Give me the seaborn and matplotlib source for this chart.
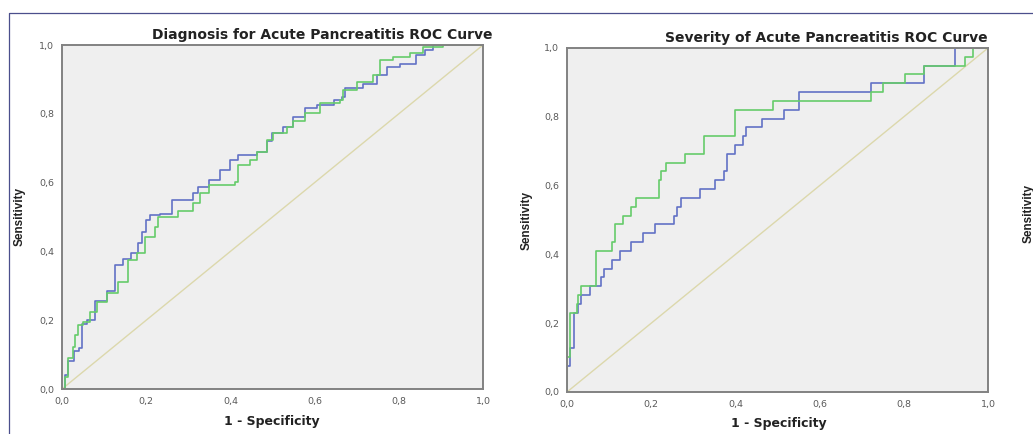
import matplotlib
matplotlib.use("Agg")
import matplotlib.pyplot as plt
import seaborn as sns
from matplotlib.lines import Line2D
from matplotlib.ticker import FuncFormatter

# --- data (1 - specificity, sensitivity) ---
diag_blue_fpr = [0, 0.007, 0.015, 0.028, 0.04, 0.047, 0.06, 0.078, 0.106, 0.126,
                 0.146, 0.165, 0.18, 0.19, 0.2, 0.209, 0.233, 0.262, 0.312, 0.324,
                 0.348, 0.375, 0.399, 0.419, 0.462, 0.486, 0.498, 0.526, 0.549, 0.577,
                 0.605, 0.645, 0.664, 0.672, 0.716, 0.748, 0.771, 0.803, 0.842, 0.862,
                 0.882, 1.0]
diag_blue_tpr = [0, 0.04, 0.08, 0.11, 0.12, 0.19, 0.2, 0.255, 0.285, 0.36,
                 0.377, 0.394, 0.424, 0.457, 0.49, 0.506, 0.51, 0.55, 0.569, 0.588,
                 0.608, 0.637, 0.666, 0.68, 0.69, 0.72, 0.743, 0.763, 0.79, 0.816,
                 0.826, 0.84, 0.85, 0.874, 0.888, 0.913, 0.937, 0.946, 0.971, 0.985,
                 1.0, 1.0]

diag_green_fpr = [0, 0.007, 0.015, 0.025, 0.031, 0.039, 0.05, 0.066, 0.082, 0.106,
                  0.134, 0.157, 0.177, 0.197, 0.221, 0.228, 0.276, 0.312, 0.328, 0.348,
                  0.411, 0.419, 0.447, 0.462, 0.486, 0.502, 0.534, 0.549, 0.577, 0.613,
                  0.66, 0.668, 0.7, 0.739, 0.755, 0.787, 0.827, 0.858, 0.906, 1.0]
diag_green_tpr = [0, 0.036, 0.09, 0.123, 0.157, 0.186, 0.196, 0.225, 0.254, 0.279,
                  0.312, 0.375, 0.394, 0.443, 0.472, 0.5, 0.516, 0.54, 0.569, 0.593,
                  0.603, 0.651, 0.666, 0.69, 0.724, 0.743, 0.763, 0.778, 0.801, 0.83,
                  0.84, 0.869, 0.893, 0.913, 0.956, 0.966, 0.976, 0.995, 1.0, 1.0]

sev_blue_fpr = [0, 0, 0.008, 0.016, 0.026, 0.034, 0.054, 0.08, 0.088, 0.106,
                0.126, 0.152, 0.18, 0.21, 0.254, 0.262, 0.27, 0.316, 0.352, 0.372,
                0.38, 0.398, 0.418, 0.426, 0.462, 0.515, 0.552, 0.722, 0.848, 0.922, 1.0]
sev_blue_tpr = [0, 0.077, 0.128, 0.231, 0.256, 0.282, 0.308, 0.333, 0.359, 0.385,
                0.41, 0.436, 0.462, 0.487, 0.513, 0.538, 0.564, 0.59, 0.615, 0.641,
                0.692, 0.718, 0.744, 0.769, 0.795, 0.821, 0.872, 0.897, 0.949, 1.0, 1.0]

sev_green_fpr = [0, 0, 0.008, 0.024, 0.026, 0.034, 0.07, 0.106, 0.114, 0.132,
                 0.152, 0.164, 0.218, 0.224, 0.234, 0.281, 0.326, 0.398, 0.489, 0.722,
                 0.75, 0.803, 0.848, 0.945, 0.965, 1.0]
sev_green_tpr = [0, 0.103, 0.231, 0.256, 0.282, 0.308, 0.41, 0.436, 0.487, 0.513,
                 0.538, 0.564, 0.615, 0.641, 0.667, 0.692, 0.744, 0.821, 0.847, 0.872,
                 0.897, 0.923, 0.949, 0.974, 1.0, 1.0]

ref_line = [0, 1]
ticks = [0, 0.2, 0.4, 0.6, 0.8, 1.0]

titles = ["Diagnosis for Acute Pancreatitis ROC Curve", "Severity of Acute Pancreatitis ROC Curve"]

sns.set_style("white")
# the screenshot is stretched sideways a little, so horizontal text uses the wider DejaVu
plt.rcParams["font.family"] = ["DejaVu Sans"]

BLUE = "#6271c6"
GREEN = "#66cc6a"
REF = "#dcd8ac"
SPINE = "#828282"
TXT = "#222222"

W, H = 1033, 434
fig = plt.figure(figsize=(W / 100, H / 100), dpi=100)


def px_box(left, top, right, bottom):
    return [left / W, 1 - bottom / H, (right - left) / W, (bottom - top) / H]


ax1 = fig.add_axes(px_box(62, 45, 483, 389))
ax2 = fig.add_axes(px_box(567, 48, 988, 392))

curves = [
    (ax1, diag_blue_fpr, diag_blue_tpr, diag_green_fpr, diag_green_tpr),
    (ax2, sev_blue_fpr, sev_blue_tpr, sev_green_fpr, sev_green_tpr),
]

comma = FuncFormatter(lambda v, p: f"{v:.1f}".replace(".", ","))

for ax, bx, by, gx, gy in curves:
    ax.set_facecolor("#efefef")
    sns.lineplot(x=ref_line, y=ref_line, ax=ax, color=REF, lw=1.0,
                 estimator=None, sort=False)
    sns.lineplot(x=bx, y=by, ax=ax, color=BLUE, lw=1.2, drawstyle="steps-post",
                 estimator=None, sort=False)
    sns.lineplot(x=gx, y=gy, ax=ax, color=GREEN, lw=1.2, drawstyle="steps-post",
                 estimator=None, sort=False)
    ax.set_xlim(0, 1)
    ax.set_ylim(0, 1)
    ax.set_xticks(ticks)
    ax.set_yticks(ticks)
    ax.xaxis.set_major_formatter(comma)
    ax.yaxis.set_major_formatter(comma)
    ax.tick_params(direction="out", length=4, width=1, color=SPINE,
                   labelsize=6.8, labelcolor="#5a5a5a", pad=1.5)
    for s in ax.spines.values():
        s.set_color(SPINE)
        s.set_linewidth(1.4)
    ax.set_xlabel("")
    ax.set_ylabel("")

# titles and axis labels placed like the original SPSS output
fig.text(493 / W, 1 - 35 / H, titles[0], ha="right", va="center",
         fontsize=10, fontweight="bold", color=TXT)
fig.text(988 / W, 1 - 38 / H, titles[1], ha="right", va="center",
         fontsize=10, fontweight="bold", color=TXT)

fig.text(272 / W, 1 - 421 / H, "1 - Specificity", ha="center", va="center",
         fontsize=9, fontweight="bold", color=TXT)
fig.text(779 / W, 1 - 423 / H, "1 - Specificity", ha="center", va="center",
         fontsize=9, fontweight="bold", color=TXT)

for xp, yp in [(20, 217), (527, 220), (1029, 213)]:
    fig.text(xp / W, 1 - yp / H, "Sensitivity", ha="center", va="center",
             rotation=90, fontsize=8.5, fontweight="bold", color=TXT,
             family=["Liberation Sans", "DejaVu Sans"])

# frame of the screenshot
fig.add_artist(Line2D([8.5 / W, 8.5 / W, 1], [0, 1 - 12.5 / H, 1 - 12.5 / H],
                      transform=fig.transFigure, color="#4b4f8c", lw=0.9))

fig.savefig("out.png", dpi=100, facecolor="white")
